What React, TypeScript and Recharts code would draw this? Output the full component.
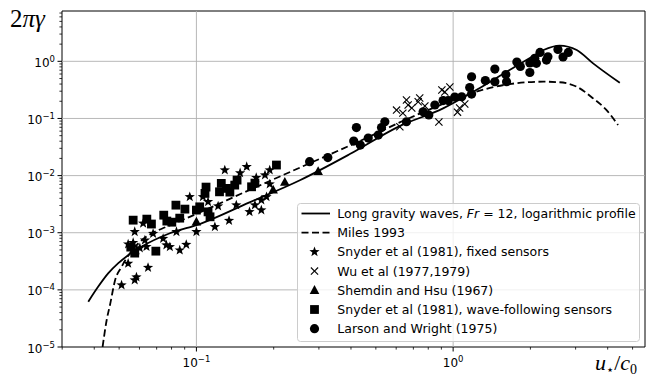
import React from 'react'
import { ComposedChart, XAxis, YAxis, Line, Scatter, ReferenceLine, ReferenceArea, Legend } from 'recharts'

// axis ranges and ticks (log scales)
const xDomain = [0.02995, 5.59]
const yDomain = [1e-5, 7.6]
const xTicks = [0.03, 0.04, 0.05, 0.06, 0.07, 0.08, 0.09, 0.1, 0.2, 0.3, 0.4, 0.5, 0.6, 0.7, 0.8, 0.9, 1, 2, 3, 4, 5]
const yTicks = [
    1e-5, 2e-5, 3e-5, 4e-5, 5e-5, 6e-5, 7e-5, 8e-5, 9e-5,
    1e-4, 2e-4, 3e-4, 4e-4, 5e-4, 6e-4, 7e-4, 8e-4, 9e-4,
    1e-3, 2e-3, 3e-3, 4e-3, 5e-3, 6e-3, 7e-3, 8e-3, 9e-3,
    1e-2, 2e-2, 3e-2, 4e-2, 5e-2, 6e-2, 7e-2, 8e-2, 9e-2,
    0.1, 0.2, 0.3, 0.4, 0.5, 0.6, 0.7, 0.8, 0.9,
    1, 2, 3, 4, 5, 6, 7,
]
const gridX = [0.1, 1]
const gridY = [1e-4, 1e-3, 1e-2, 0.1, 1]

// theory curves [u*/c0, 2*pi*gamma]
const longGravity = [
    [0.0379, 6.2e-5], [0.0414, 1.13e-4], [0.0453, 1.94e-4], [0.0495, 2.9e-4], [0.0542, 4.05e-4],
    [0.0611, 5.7e-4], [0.0788, 9.8e-4], [0.103, 1.42e-3], [0.161, 3.4e-3], [0.253, 8.3e-3],
    [0.396, 0.0238], [0.619, 0.0736], [0.914, 0.15], [1.23, 0.314], [1.66, 0.705],
    [1.99, 1.14], [2.25, 1.58], [2.6, 1.89], [3.03, 1.58], [3.51, 0.92], [4.46, 0.42],
]
const miles = [
    [0.0431, 1e-5], [0.0447, 2.94e-5], [0.0462, 5.8e-5], [0.0481, 1.42e-4], [0.0511, 2.53e-4],
    [0.055, 4.34e-4], [0.0602, 6.9e-4], [0.0669, 9.7e-4], [0.0764, 1.27e-3], [0.0942, 1.9e-3],
    [0.161, 5.6e-3], [0.276, 0.0164], [0.433, 0.0402], [0.677, 0.102], [0.912, 0.179],
    [1.23, 0.294], [1.66, 0.4], [2.25, 0.44], [2.6, 0.43], [3.03, 0.359], [3.51, 0.225],
    [3.96, 0.14], [4.39, 0.0766],
]

// measurements
const snyderFixed = [
    [0.0511, 1.21e-4], [0.0542, 2.9e-4], [0.0584, 1.67e-4], [0.0575, 1.48e-4], [0.0648, 2.45e-4],
    [0.0542, 6.3e-4], [0.0567, 6.7e-4], [0.0584, 4.95e-4], [0.0602, 5.4e-4], [0.063, 7.4e-4],
    [0.0639, 5.7e-4], [0.0575, 1.04e-3], [0.062, 1.46e-3], [0.0678, 9.65e-4], [0.0742, 7.9e-4],
    [0.0764, 6.07e-4], [0.0788, 5.67e-4], [0.0836, 1.04e-3], [0.0861, 4.95e-4], [0.0913, 6.19e-4],
    [0.0942, 4.25e-3], [0.1, 1.04e-3], [0.106, 4.25e-3], [0.111, 3.48e-3], [0.118, 1.27e-3],
    [0.1215, 2.92e-3], [0.129, 0.0125], [0.134, 1.63e-3], [0.143, 3.04e-3], [0.148, 0.0111],
    [0.157, 0.0143], [0.161, 2.32e-3], [0.169, 3.04e-3], [0.171, 9.2e-3], [0.179, 3.72e-3],
    [0.179, 2.49e-3], [0.185, 0.0102], [0.1875, 4.25e-3], [0.193, 0.0125], [0.193, 7.1e-3],
]
const wu = [
    [0.602, 0.14], [0.62, 0.0716], [0.637, 0.124], [0.658, 0.21], [0.668, 0.172], [0.69, 0.152],
    [0.731, 0.196], [0.741, 0.228], [0.776, 0.165], [0.88, 0.0865], [0.904, 0.314], [0.928, 0.29],
    [0.971, 0.355], [0.945, 0.21], [1.04, 0.129], [1.06, 0.152], [1.11, 0.179],
]
const shemdin = [[0.1, 1.55e-3], [0.199, 5.6e-3], [0.221, 7.7e-3], [0.298, 0.0118]]
const snyderFollowing = [
    [0.0567, 1.66e-3], [0.0641, 1.73e-3], [0.0668, 1.42e-3], [0.0746, 2.03e-3], [0.0767, 1.6e-3],
    [0.0802, 1.53e-3], [0.0832, 3.04e-3], [0.0902, 2.59e-3], [0.0861, 1.8e-3], [0.1, 2.49e-3],
    [0.103, 2.84e-3], [0.108, 4.88e-3], [0.109, 6.29e-3], [0.111, 2.32e-3], [0.113, 1.9e-3],
    [0.123, 5.2e-3], [0.125, 7.3e-3], [0.131, 5.97e-3], [0.135, 5.14e-3], [0.141, 6.82e-3],
    [0.144, 8.34e-3], [0.164, 6.37e-3], [0.169, 7.39e-3], [0.205, 0.0153], [0.0695, 4.76e-4],
    [0.0555, 5.6e-4], [0.0575, 4.4e-4],
]
const larsonWright = [
    [0.276, 0.0175], [0.325, 0.0207], [0.42, 0.0693], [0.41, 0.0402], [0.435, 0.0342], [0.467, 0.0454],
    [0.511, 0.0512], [0.526, 0.0693], [0.542, 0.0875], [0.658, 0.0875], [0.764, 0.131], [0.804, 0.115],
    [0.849, 0.172], [0.914, 0.206], [0.956, 0.206], [1.015, 0.237], [1.08, 0.24], [1.18, 0.537],
    [1.16, 0.348], [1.18, 0.267], [1.335, 0.461], [1.454, 0.733], [1.454, 0.439], [1.604, 0.587],
    [1.615, 0.439], [1.771, 0.972], [1.827, 0.811], [1.99, 0.637], [1.99, 0.934], [2.08, 1.13],
    [2.11, 0.923], [2.18, 1.43], [2.31, 1.05], [2.34, 1.2], [2.56, 1.61], [2.68, 1.19], [2.81, 1.43],
]

const legendNames = [
    'Long gravity waves, Fr = 12, logarithmic profile',
    'Miles 1993',
    'Snyder et al (1981), fixed sensors',
    'Wu et al (1977,1979)',
    'Shemdin and Hsu (1967)',
    'Snyder et al (1981), wave-following sensors',
    'Larson and Wright (1975)',
]

const toPoints = (arr) => arr.map(([x, y]) => ({ x, y }))

const isMajor = (v) => Math.abs(Math.log10(v) - Math.round(Math.log10(v))) < 1e-9
const expText = (v) => {
    const e = Math.round(Math.log10(v))
    return e < 0 ? '\u2212' + Math.abs(e) : String(e)
}

const FONT = 'DejaVu Sans'

// marker shapes
const StarMark = ({ cx, cy }) => {
    const pts = []
    for (let i = 0; i < 10; i++) {
        const r = i % 2 === 0 ? 5.4 : 2.2
        const a = -Math.PI / 2 + (i * Math.PI) / 5
        pts.push(`${cx + r * Math.cos(a)},${cy + r * Math.sin(a)}`)
    }
    return <polygon points={pts.join(' ')} fill="#000" />
}
const CrossMark = ({ cx, cy }) => (
    <g stroke="#000" strokeWidth={1.1}>
        <line x1={cx - 3.6} y1={cy - 3.6} x2={cx + 3.6} y2={cy + 3.6} />
        <line x1={cx - 3.6} y1={cy + 3.6} x2={cx + 3.6} y2={cy - 3.6} />
    </g>
)
const TriMark = ({ cx, cy }) => (
    <polygon points={`${cx},${cy - 5.2} ${cx - 4.8},${cy + 3.6} ${cx + 4.8},${cy + 3.6}`} fill="#000" />
)
const SquareMark = ({ cx, cy }) => <rect x={cx - 4.4} y={cy - 4.4} width={8.8} height={8.8} fill="#000" />
const CircleMark = ({ cx, cy }) => <circle cx={cx} cy={cy} r={4.6} fill="#000" />

const XTick = ({ x, y, payload }) => {
    const v = payload.value
    const major = isMajor(v)
    return (
        <g>
            <line x1={x} x2={x} y1={y} y2={y + (major ? 4.5 : 2.6)} stroke="#000" strokeWidth={major ? 1 : 0.8} />
            {major && (
                <text x={x} y={y + 20} textAnchor="middle" fontFamily={FONT} fontSize={12} fill="#000">
                    10<tspan dy={-5} fontSize={8.5}>{expText(v)}</tspan>
                </text>
            )}
        </g>
    )
}

const YTick = ({ x, y, payload }) => {
    const v = payload.value
    const major = isMajor(v)
    return (
        <g>
            <line x1={x} x2={x - (major ? 4.5 : 2.6)} y1={y} y2={y} stroke="#000" strokeWidth={major ? 1 : 0.8} />
            {major && (
                <text x={x - 7} y={y + 5.5} textAnchor="end" fontFamily={FONT} fontSize={12} fill="#000">
                    10<tspan dy={-5} fontSize={8.5}>{expText(v)}</tspan>
                </text>
            )}
        </g>
    )
}

const YTitle = ({ viewBox }) => (
    <text x={viewBox.x + 10} y={viewBox.y + 16} fontFamily="Liberation Serif" fontSize={25} fill="#000">
        2<tspan fontStyle="italic">πγ</tspan>
    </text>
)

const XTitle = ({ viewBox }) => (
    <text x={viewBox.x + viewBox.width - 50} y={viewBox.y + 23} fontFamily="Liberation Serif" fontSize={22} fill="#000">
        <tspan fontStyle="italic">u</tspan>
        <tspan fontFamily={FONT} fontSize={13} dy={4}>⋆</tspan>
        <tspan dy={-4}>/</tspan>
        <tspan fontStyle="italic">c</tspan>
        <tspan fontSize={14} dy={4}>0</tspan>
    </text>
)

const legendMarks = [null, null, StarMark, CrossMark, TriMark, SquareMark, CircleMark]

const LegendBox = () => (
    <svg width={343} height={139} style={{ display: 'block' }}>
        <rect x={0.5} y={0.5} width={342} height={138} rx={3} fill="#fff" fillOpacity={0.8} stroke="#cccccc" />
        {legendNames.map((name, i) => {
            const cy = 10.5 + i * 19.2
            const Mark = legendMarks[i]
            return (
                <g key={name}>
                    {i === 0 && <line x1={4.5} x2={33} y1={cy} y2={cy} stroke="#000" strokeWidth={1.8} />}
                    {i === 1 && <line x1={4.5} x2={33} y1={cy} y2={cy} stroke="#000" strokeWidth={1.8} strokeDasharray="7 3.5" />}
                    {Mark && <Mark cx={17.5} cy={cy} />}
                    <text x={40.3} y={cy + 4.5} fontFamily={FONT} fontSize={12.5} fill="#000">
                        {i === 0 ? (
                            <>
                                {name.split('Fr')[0]}
                                <tspan fontStyle="italic">Fr</tspan>
                                {name.split('Fr')[1]}
                            </>
                        ) : name}
                    </text>
                </g>
            )
        })}
    </svg>
)

export default function App() {
    return (
        <div style={{ position: 'absolute', left: 0, top: 0, width: 653, height: 376, background: '#fff', fontFamily: FONT }}>
            <ComposedChart width={653} height={376} margin={{ top: 11, right: 8, bottom: 0, left: 0 }}>
                <XAxis type="number" dataKey="x" scale="log" domain={xDomain} allowDataOverflow
                    ticks={xTicks} interval={0} tick={XTick} tickLine={false} tickSize={0} tickMargin={0}
                    axisLine={false} height={29} label={{ content: XTitle }} />
                <YAxis type="number" dataKey="y" scale="log" domain={yDomain} allowDataOverflow
                    ticks={yTicks} interval={0} tick={YTick} tickLine={false} tickSize={0} tickMargin={0}
                    axisLine={false} width={62} label={{ content: YTitle }} />
                {gridX.map(v => <ReferenceLine key={'gx' + v} x={v} stroke="#b0b0b0" strokeWidth={0.9} />)}
                {gridY.map(v => <ReferenceLine key={'gy' + v} y={v} stroke="#b0b0b0" strokeWidth={0.9} />)}
                <Line data={toPoints(longGravity)} dataKey="y" type="monotone" stroke="#000" strokeWidth={1.8}
                    dot={false} isAnimationActive={false} legendType="none" />
                <Line data={toPoints(miles)} dataKey="y" type="monotone" stroke="#000" strokeWidth={1.8}
                    strokeDasharray="7 3.5" dot={false} isAnimationActive={false} legendType="none" />
                <Scatter data={toPoints(snyderFixed)} dataKey="y" shape={StarMark} isAnimationActive={false} legendType="none" />
                <Scatter data={toPoints(wu)} dataKey="y" shape={CrossMark} isAnimationActive={false} legendType="none" />
                <Scatter data={toPoints(shemdin)} dataKey="y" shape={TriMark} isAnimationActive={false} legendType="none" />
                <Scatter data={toPoints(snyderFollowing)} dataKey="y" shape={SquareMark} isAnimationActive={false} legendType="none" />
                <Scatter data={toPoints(larsonWright)} dataKey="y" shape={CircleMark} isAnimationActive={false} legendType="none" />
                <ReferenceArea x1={xDomain[0]} x2={xDomain[1]} y1={yDomain[0]} y2={yDomain[1]}
                    fill="none" stroke="#000" strokeWidth={1} />
                <Legend layout="horizontal" verticalAlign="middle" align="center" content={LegendBox}
                    wrapperStyle={{ left: 297, top: 203, width: 343, height: 139 }} />
            </ComposedChart>
        </div>
    )
}
